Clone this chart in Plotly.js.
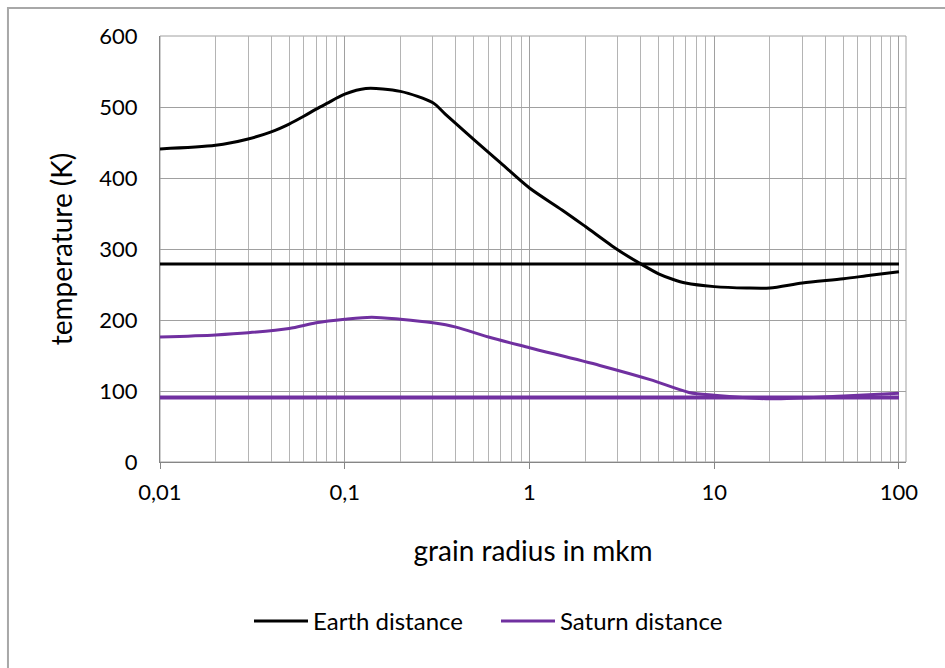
<!DOCTYPE html>
<html>
<head>
<meta charset="utf-8">
<script src="https://cdn.plot.ly/plotly-3.0.1.min.js"></script>
<style>
  html, body { margin: 0; padding: 0; background: #ffffff; }
  #chart { width: 945px; height: 668px; }
</style>
</head>
<body>
<div id="chart"></div>
<script>
// Grain radius (micrometres) and equilibrium temperature (K)
const earthRadius = [0.01, 0.02, 0.03, 0.04, 0.05, 0.06, 0.07, 0.08, 0.1, 0.13, 0.2, 0.3, 0.35, 0.5, 0.7, 1, 1.5, 2, 3, 4, 5, 6, 7, 10, 15, 20, 30, 50, 70, 100];
const earthTemp   = [441, 446, 455, 465, 476, 487, 497, 505, 518, 526, 522, 506, 490, 454, 421, 386, 355, 332, 299, 279, 265, 257, 252, 247, 245, 245, 252, 258, 263, 268];

const saturnRadius = [0.01, 0.02, 0.03, 0.05, 0.07, 0.1, 0.14, 0.2, 0.3, 0.4, 0.6, 1, 2.4, 4.5, 7.3, 10, 20, 50, 100];
const saturnTemp   = [176, 179, 182, 188, 196, 201, 204, 201, 196, 190, 176, 161, 136, 116, 98, 94, 89, 93, 97];

// Black-body reference levels
const refRadius = [0.01, 100];
const earthBlackBody  = [279, 279];
const saturnBlackBody = [91, 91];

// Axis labels
const xTickVals = [0.01, 0.1, 1, 10, 100];
const xTickText = ['0,01', '0,1', '1', '10', '100'];

const BLACK = '#000000';
const PURPLE = '#7030a0';
const FONT = 'Lato, "Open Sans", sans-serif';

// minor grid: 2..9 within every decade
const minorVals = [];
for (let e = -2; e < 2; e++) {
  for (let k = 2; k <= 9; k++) minorVals.push(k * Math.pow(10, e));
}

const traces = [
  { x: refRadius, y: earthBlackBody, mode: 'lines', showlegend: false, hoverinfo: 'skip',
    line: { color: BLACK, width: 3 } },
  { x: refRadius, y: saturnBlackBody, mode: 'lines', showlegend: false, hoverinfo: 'skip',
    line: { color: PURPLE, width: 4 } },
  { x: earthRadius, y: earthTemp, mode: 'lines', name: 'Earth distance',
    line: { color: BLACK, width: 3, shape: 'spline', smoothing: 0.8 } },
  { x: saturnRadius, y: saturnTemp, mode: 'lines', name: 'Saturn distance',
    line: { color: PURPLE, width: 3, shape: 'spline', smoothing: 0.8 } }
];

const layout = {
  width: 945, height: 668,
  margin: { l: 160, r: 39, t: 36, b: 206 },
  paper_bgcolor: '#ffffff', plot_bgcolor: '#ffffff',
  font: { family: FONT, size: 22, color: '#000000' },
  showlegend: true,
  legend: {
    orientation: 'h', x: 0.1193, xanchor: 'left', y: -0.374, yanchor: 'middle',
    font: { family: FONT, size: 24, color: '#000000' },
    itemwidth: 54, entrywidth: 178, entrywidthmode: 'pixels',
    bgcolor: 'rgba(0,0,0,0)'
  },
  xaxis: {
    type: 'log', range: [-2, 2.038],
    tickmode: 'array', tickvals: xTickVals, ticktext: xTickText,
    ticks: 'outside', ticklen: 6, tickcolor: '#868686', tickwidth: 1,
    ticklabelstandoff: 5,
    showline: true, linecolor: '#868686', linewidth: 1,
    showgrid: true, gridcolor: '#a0a0a0', gridwidth: 1,
    minor: { tickmode: 'array', tickvals: minorVals, showgrid: true, gridcolor: '#b4b4b4', gridwidth: 1, ticks: '' },
    zeroline: false,
    tickfont: { family: FONT, size: 22, color: '#000000' },
    title: { text: 'grain radius in mkm', standoff: 36, font: { family: FONT, size: 28, color: '#000000' } }
  },
  yaxis: {
    range: [0, 600], tickmode: 'linear', tick0: 0, dtick: 100,
    ticks: '', ticklabelstandoff: 17,
    showline: true, linecolor: '#868686', linewidth: 1,
    showgrid: true, gridcolor: '#a0a0a0', gridwidth: 1,
    zeroline: false,
    tickfont: { family: FONT, size: 22, color: '#000000' },
    title: { text: 'temperature (K)', standoff: 18, font: { family: FONT, size: 28, color: '#000000' } }
  },
  shapes: [
    // plot-area frame
    { type: 'rect', xref: 'paper', yref: 'paper', x0: 0, x1: 1, y0: 0, y1: 1,
      line: { color: '#a0a0a0', width: 1 }, layer: 'below' },
    // chart-area frame
    { type: 'rect', xref: 'paper', yref: 'paper', x0: -0.2038, x1: 1.2, y0: -0.6, y1: 1.0657,
      line: { color: '#a8a8a8', width: 2 }, layer: 'below' }
  ]
};

Plotly.newPlot('chart', traces, layout, { displayModeBar: false, staticPlot: true });
</script>
</body>
</html>
